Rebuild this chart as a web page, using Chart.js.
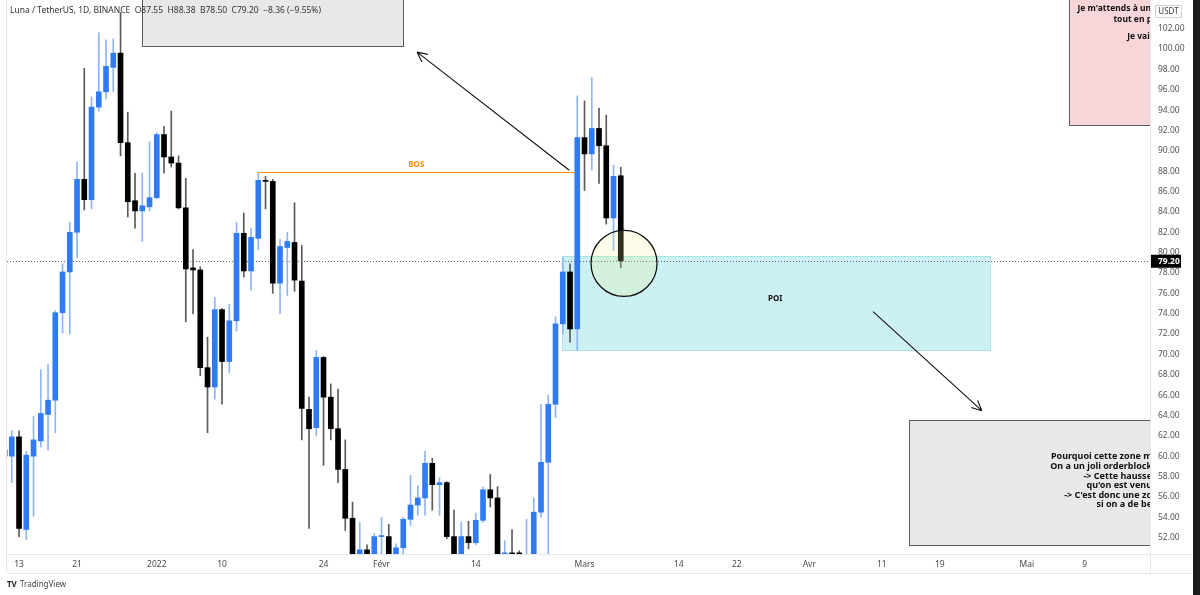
<!DOCTYPE html>
<html>
<head>
<meta charset="utf-8">
<script src="https://cdn.jsdelivr.net/npm/chart.js@4.4.1/dist/chart.umd.min.js"></script>
<style>
  html, body { margin: 0; padding: 0; background: #fff; }
  #wrap { width: 1200px; height: 595px; position: relative; }
</style>
</head>
<body>
<div id="wrap"><canvas id="chart"></canvas></div>
<script>
// Luna / TetherUS daily candles
var dates = [
  '2021-12-11','2021-12-12','2021-12-13','2021-12-14','2021-12-15','2021-12-16','2021-12-17','2021-12-18','2021-12-19','2021-12-20',
  '2021-12-21','2021-12-22','2021-12-23','2021-12-24','2021-12-25','2021-12-26','2021-12-27','2021-12-28','2021-12-29','2021-12-30',
  '2021-12-31','2022-01-01','2022-01-02','2022-01-03','2022-01-04','2022-01-05','2022-01-06','2022-01-07','2022-01-08','2022-01-09',
  '2022-01-10','2022-01-11','2022-01-12','2022-01-13','2022-01-14','2022-01-15','2022-01-16','2022-01-17','2022-01-18','2022-01-19',
  '2022-01-20','2022-01-21','2022-01-22','2022-01-23','2022-01-24','2022-01-25','2022-01-26','2022-01-27','2022-01-28','2022-01-29',
  '2022-01-30','2022-01-31','2022-02-01','2022-02-02','2022-02-03','2022-02-04','2022-02-05','2022-02-06','2022-02-07','2022-02-08',
  '2022-02-09','2022-02-10','2022-02-11','2022-02-12','2022-02-13','2022-02-14','2022-02-15','2022-02-16','2022-02-17','2022-02-18',
  '2022-02-19','2022-02-20','2022-02-21','2022-02-22','2022-02-23','2022-02-24','2022-02-25','2022-02-26','2022-02-27','2022-02-28',
  '2022-03-01','2022-03-02','2022-03-03','2022-03-04','2022-03-05','2022-03-06'
];
var opens = [
  60.6, 60.0, 61.9, 52.8, 60.0, 61.5, 64.1, 65.5, 74.1, 78.1,
  82.0, 87.2, 85.2, 94.3, 95.8, 98.2, 99.6, 90.8, 85.1, 84.1,
  84.5, 85.4, 91.6, 89.4, 88.8, 84.4, 78.5, 78.3, 68.7, 66.8,
  74.4, 69.3, 73.3, 81.9, 78.2, 81.4, 87.1, 87.0, 77.0, 80.5,
  81.0, 77.2, 64.6, 62.8, 69.7, 65.8, 62.7, 58.7, 53.9, 50.2,
  50.8, 50.3, 52.1, 52.1, 50.3, 51.0, 53.8, 55.2, 55.9, 59.3,
  57.2, 57.4, 52.1, 50.3, 52.1, 51.5, 53.7, 56.7, 55.9, 50.2,
  50.5, 50.5, 49.0, 50.0, 54.5, 59.4, 65.1, 73.0, 78.1, 72.5,
  91.3, 89.7, 92.2, 90.5, 83.4, 87.55
];
var highs = [
  60.9, 62.5, 62.5, 60.5, 63.9, 68.5, 69.0, 74.3, 78.9, 83.0,
  88.9, 98.1, 95.3, 101.6, 100.9, 101.0, 103.6, 93.8, 87.8, 87.8,
  90.9, 91.8, 92.4, 93.9, 89.5, 87.3, 80.3, 78.6, 71.7, 75.6,
  74.5, 74.9, 83.0, 83.9, 82.4, 87.9, 87.5, 87.2, 81.3, 82.0,
  84.9, 80.7, 65.8, 70.4, 69.8, 67.1, 66.6, 61.6, 55.5, 53.5,
  51.3, 52.4, 54.0, 53.3, 51.4, 54.0, 58.1, 57.1, 60.5, 59.8,
  57.9, 57.5, 54.7, 53.5, 53.6, 54.4, 57.0, 58.2, 57.0, 51.7,
  52.8, 50.7, 53.8, 55.9, 65.1, 66.0, 73.7, 79.5, 78.9, 95.4,
  94.9, 97.2, 94.2, 93.5, 88.6, 88.38
];
var lows = [
  59.8, 57.4, 52.1, 51.8, 54.1, 60.9, 60.6, 62.3, 72.1, 72.0,
  79.5, 84.2, 84.3, 93.9, 95.1, 95.8, 89.5, 83.5, 82.4, 81.1,
  84.1, 85.3, 87.8, 88.4, 84.3, 73.2, 74.0, 67.9, 62.3, 65.6,
  65.1, 68.2, 72.3, 77.6, 76.3, 80.3, 84.3, 76.0, 74.0, 75.8,
  76.2, 61.6, 52.9, 62.0, 59.1, 61.6, 57.4, 52.7, 49.5, 49.8,
  49.8, 49.9, 50.2, 50.0, 50.0, 50.3, 53.2, 54.2, 54.2, 54.7,
  54.2, 51.9, 49.9, 49.9, 50.9, 51.3, 53.5, 55.0, 49.5, 49.8,
  49.9, 49.9, 48.0, 49.5, 54.0, 50.0, 63.8, 72.0, 71.2, 70.4,
  86.1, 88.1, 86.8, 82.8, 80.2, 78.50
];
var closes = [
  60.0, 61.9, 52.9, 60.1, 61.6, 64.2, 65.5, 74.1, 78.1, 82.0,
  87.2, 85.2, 94.3, 95.8, 98.3, 99.6, 90.8, 85.0, 84.1, 84.6,
  85.4, 91.6, 89.4, 88.8, 84.4, 78.4, 78.3, 68.7, 66.8, 74.4,
  69.3, 73.3, 81.9, 78.2, 81.5, 87.1, 87.0, 77.0, 80.6, 81.1,
  77.3, 64.7, 62.7, 69.7, 65.8, 62.7, 58.7, 53.9, 50.2, 50.8,
  50.3, 52.1, 52.2, 50.3, 51.0, 53.8, 55.2, 55.9, 59.3, 57.2,
  57.4, 52.1, 50.3, 52.1, 51.5, 53.7, 56.7, 55.9, 50.0, 50.5,
  50.4, 50.3, 50.0, 54.5, 59.4, 65.1, 73.0, 78.1, 72.5, 91.3,
  89.7, 92.2, 90.5, 83.4, 87.5, 79.20
];

var tickDates = ['2021-12-13','2021-12-21','2022-01-01','2022-01-10','2022-01-24','2022-02-01','2022-02-14',
                 '2022-03-01','2022-03-14','2022-03-22','2022-04-01','2022-04-11','2022-04-19','2022-05-01','2022-05-09'];
var tickLabels = ['13','21','2022','10','24','Févr','14','Mars','14','22','Avr','11','19','Mai','9'];
var priceTicks = [52,54,56,58,60,62,64,66,68,70,72,74,76,78,80,82,84,86,88,90,92,94,96,98,100,102];

var lastPrice = 79.20;
var bosLevel = 87.9;

var UP = '#2f7bf5', UP_WICK = '#8db5f8', DOWN = '#000000', DOWN_WICK = '#5a5a5a';

function dayNum(s) {
  return Math.round((Date.parse(s) - Date.parse('2021-12-13')) / 86400000);
}
function isUp(i) { return closes[i] >= opens[i]; }

var bodyData = dates.map(function (d, i) { return { x: dayNum(d), y: [opens[i], closes[i]] }; });
var wickData = dates.map(function (d, i) { return { x: dayNum(d), y: [lows[i], highs[i]] }; });

function arrow(ctx, x1, y1, x2, y2) {
  ctx.beginPath();
  ctx.moveTo(x1, y1); ctx.lineTo(x2, y2);
  var a = Math.atan2(y2 - y1, x2 - x1);
  ctx.moveTo(x2, y2); ctx.lineTo(x2 - 11 * Math.cos(a - 0.45), y2 - 11 * Math.sin(a - 0.45));
  ctx.moveTo(x2, y2); ctx.lineTo(x2 - 11 * Math.cos(a + 0.45), y2 - 11 * Math.sin(a + 0.45));
  ctx.stroke();
}

// drawings are placed in day / price units
var overlay = {
  id: 'overlay',
  beforeDatasetsDraw: function (chart) {
    var ctx = chart.ctx, xs = chart.scales.x, ys = chart.scales.y, a = chart.chartArea;
    ctx.save();
    ctx.beginPath(); ctx.rect(a.left, a.top, a.right - a.left, a.bottom - a.top); ctx.clip();
    // POI zone
    var px1 = xs.getPixelForValue(74.9), px2 = xs.getPixelForValue(133.9);
    var py1 = ys.getPixelForValue(79.63), py2 = ys.getPixelForValue(70.37);
    ctx.fillStyle = '#cdf0f4';
    ctx.fillRect(px1, py1, px2 - px1, py2 - py1);
    ctx.strokeStyle = '#a9e3ea'; ctx.lineWidth = 1;
    ctx.strokeRect(Math.round(px1) + 0.5, Math.round(py1) + 0.5, Math.round(px2 - px1), Math.round(py2 - py1));
    ctx.fillStyle = '#111';
    ctx.font = 'bold 8px "Noto Sans"';
    ctx.textAlign = 'center'; ctx.textBaseline = 'middle';
    ctx.fillText('POI', xs.getPixelForValue(104.3), ys.getPixelForValue(75.5));
    // last price dotted line
    var ly = Math.round(ys.getPixelForValue(lastPrice)) + 0.5;
    ctx.setLineDash([1, 2]); ctx.strokeStyle = '#666';
    ctx.beginPath(); ctx.moveTo(a.left, ly); ctx.lineTo(a.right, ly); ctx.stroke();
    ctx.setLineDash([]);
    ctx.restore();
  },
  afterDatasetsDraw: function (chart) {
    var ctx = chart.ctx, xs = chart.scales.x, ys = chart.scales.y, a = chart.chartArea;
    ctx.save();
    ctx.beginPath(); ctx.rect(a.left, a.top, a.right - a.left, a.bottom - a.top); ctx.clip();

    // BOS line
    var by = Math.round(ys.getPixelForValue(bosLevel)) + 0.5;
    ctx.strokeStyle = '#ff9100'; ctx.lineWidth = 1;
    ctx.beginPath(); ctx.moveTo(xs.getPixelForValue(33), by); ctx.lineTo(xs.getPixelForValue(76.6), by); ctx.stroke();
    ctx.fillStyle = '#ff9100'; ctx.font = 'bold 8px "Noto Sans"';
    ctx.textAlign = 'center'; ctx.textBaseline = 'middle';
    ctx.fillText('BOS', xs.getPixelForValue(54.8), by - 8);

    // circle on the last candle
    var cx = xs.getPixelForValue(83.45), cy = ys.getPixelForValue(78.94);
    ctx.beginPath(); ctx.arc(cx, cy, 33, 0, Math.PI * 2);
    ctx.fillStyle = 'rgba(240,240,140,0.2)'; ctx.fill();
    ctx.strokeStyle = '#111'; ctx.lineWidth = 1.3; ctx.stroke();

    // arrows
    ctx.strokeStyle = '#111'; ctx.lineWidth = 1.1;
    arrow(ctx, xs.getPixelForValue(75.9), ys.getPixelForValue(88.09), xs.getPixelForValue(54.9), ys.getPixelForValue(99.7));
    arrow(ctx, xs.getPixelForValue(117.8), ys.getPixelForValue(74.21), xs.getPixelForValue(132.8), ys.getPixelForValue(64.47));

    // text boxes
    ctx.lineWidth = 1; ctx.strokeStyle = '#5d5d5d';
    var gx1 = xs.getPixelForValue(16.97), gx2 = xs.getPixelForValue(52.97), gy = ys.getPixelForValue(100.3);
    ctx.fillStyle = '#e8e8ea';
    ctx.fillRect(gx1, -5, gx2 - gx1, gy + 5);
    ctx.strokeRect(Math.round(gx1) + 0.5, -5, Math.round(gx2 - gx1), Math.round(gy) + 5.5);

    var bx = xs.getPixelForValue(122.8), bt = ys.getPixelForValue(63.58), bb = ys.getPixelForValue(51.28);
    ctx.fillStyle = '#e8e8ea';
    ctx.fillRect(bx, bt, a.right - bx + 20, bb - bt);
    ctx.strokeRect(Math.round(bx) + 0.5, Math.round(bt) + 0.5, a.right - bx + 20, Math.round(bb - bt));

    var kx = xs.getPixelForValue(144.8), kb = ys.getPixelForValue(92.52);
    ctx.fillStyle = '#f8d5d8';
    ctx.fillRect(kx, -5, a.right - kx + 20, kb + 5);
    ctx.strokeRect(Math.round(kx) + 0.5, -5, a.right - kx + 20, Math.round(kb) + 5.5);

    ctx.fillStyle = '#111'; ctx.font = 'bold 8.5px "Noto Sans"';
    ctx.textAlign = 'right'; ctx.textBaseline = 'middle';
    var rx = a.right + 1;
    ctx.fillText("Je m'attends à un", rx, 9);
    ctx.fillText('tout en p', rx + 1, 20);
    ctx.fillText('Je vais', rx + 3, 37);

    ctx.font = 'bold 9px "Noto Sans"';
    var lines = ['Pourquoi cette zone m', 'On a un joli orderblock', '-> Cette hausse', "qu'on est venu", "-> C'est donc une zo", 'si on a de be'];
    lines.forEach(function (t, i) { ctx.fillText(t, rx + 1, bt + 37 + i * 9.6); });
    ctx.restore();
  },
  afterDraw: function (chart) {
    var ctx = chart.ctx, ys = chart.scales.y, a = chart.chartArea;
    ctx.save();
    // pane borders
    ctx.strokeStyle = '#e6e8ee'; ctx.lineWidth = 1;
    ctx.beginPath();
    ctx.moveTo(a.left - 0.5, 0); ctx.lineTo(a.left - 0.5, a.bottom + 19);
    ctx.moveTo(a.left, a.bottom + 0.5); ctx.lineTo(a.right + 43, a.bottom + 0.5);
    ctx.moveTo(a.left, a.bottom + 19.5); ctx.lineTo(a.right + 43, a.bottom + 19.5);
    ctx.moveTo(a.right + 0.5, 0); ctx.lineTo(a.right + 0.5, a.bottom + 19);
    ctx.stroke();

    // title
    ctx.fillStyle = '#333'; ctx.font = '8.5px "Noto Sans"';
    ctx.textAlign = 'left'; ctx.textBaseline = 'middle';
    ctx.fillText('Luna / TetherUS, 1D, BINANCE  O87.55  H88.38  B78.50  C79.20  −8.36 (−9.55%)', 10, 11);

    // currency tag
    ctx.strokeStyle = '#cfd2d8'; ctx.fillStyle = '#fff';
    ctx.beginPath(); ctx.rect(1155.5, 5.5, 26, 12); ctx.fill(); ctx.stroke();
    ctx.fillStyle = '#444'; ctx.font = '8px "Noto Sans"'; ctx.textAlign = 'center';
    ctx.fillText('USDT', 1168.5, 12);

    // last price tag
    var ly = ys.getPixelForValue(lastPrice);
    ctx.fillStyle = '#000';
    ctx.fillRect(a.right + 1, ly - 6, 30, 13);
    ctx.fillStyle = '#fff'; ctx.font = 'bold 8.5px "Noto Sans"'; ctx.textAlign = 'left';
    ctx.fillText(lastPrice.toFixed(2), a.right + 8, ly + 0.5);

    // right dark strip
    ctx.fillStyle = '#1c1c1c';
    ctx.fillRect(1193, 0, 7, 595);

    // logo
    ctx.fillStyle = '#222'; ctx.font = 'bold 8px "Noto Sans"'; ctx.textAlign = 'left';
    ctx.fillText('TV', 7, 585);
    ctx.fillStyle = '#444'; ctx.font = '8px "Noto Sans"';
    ctx.fillText('TradingView', 20, 585);
    ctx.restore();
  }
};

Chart.defaults.font.family = '"Noto Sans", sans-serif';

var ctx = document.getElementById('chart').getContext('2d');
var myChart = new Chart(ctx, {
  type: 'bar',
  data: {
    datasets: [{
      label: 'wick',
      data: wickData,
      backgroundColor: function (c) { return isUp(c.dataIndex) ? UP_WICK : DOWN_WICK; },
      barThickness: 1,
      grouped: false,
      order: 2
    }, {
      label: 'body',
      data: bodyData,
      backgroundColor: function (c) { return isUp(c.dataIndex) ? UP : DOWN; },
      barThickness: 5,
      minBarLength: 1,
      grouped: false,
      order: 1
    }]
  },
  options: {
    responsive: true,
    maintainAspectRatio: false,
    animation: false,
    layout: { padding: { left: 7, right: 7, top: 0, bottom: 22 } },
    plugins: {
      legend: { display: false },
      tooltip: { enabled: false }
    },
    scales: {
      x: {
        type: 'linear',
        offset: false,
        min: -1.66,
        max: 156.0,
        grid: { display: false, drawTicks: false, offset: false },
        border: { display: false },
        afterBuildTicks: function (scale) {
          scale.ticks = tickDates.map(function (d) { return { value: dayNum(d) }; });
        },
        afterFit: function (scale) {
          scale.height = 19;
          scale.paddingLeft = 0; scale.paddingRight = 0;
        },
        ticks: {
          autoSkip: false,
          maxRotation: 0,
          padding: 5,
          color: '#4a4a4a',
          font: { size: 8.5 },
          callback: function (v) {
            var k = tickDates.findIndex(function (d) { return dayNum(d) === v; });
            return k >= 0 ? tickLabels[k] : '';
          }
        }
      },
      y: {
        position: 'right',
        min: 50.39,
        max: 104.82,
        grid: { display: false, drawTicks: false },
        border: { display: false },
        afterBuildTicks: function (scale) {
          scale.ticks = priceTicks.map(function (v) { return { value: v }; });
        },
        afterFit: function (scale) {
          scale.width = 43;
          scale.paddingTop = 0; scale.paddingBottom = 0;
        },
        ticks: {
          padding: 8,
          color: '#555',
          font: { size: 8.5 },
          callback: function (v) { return v.toFixed(2); }
        }
      }
    }
  },
  plugins: [overlay]
});
</script>
</body>
</html>
